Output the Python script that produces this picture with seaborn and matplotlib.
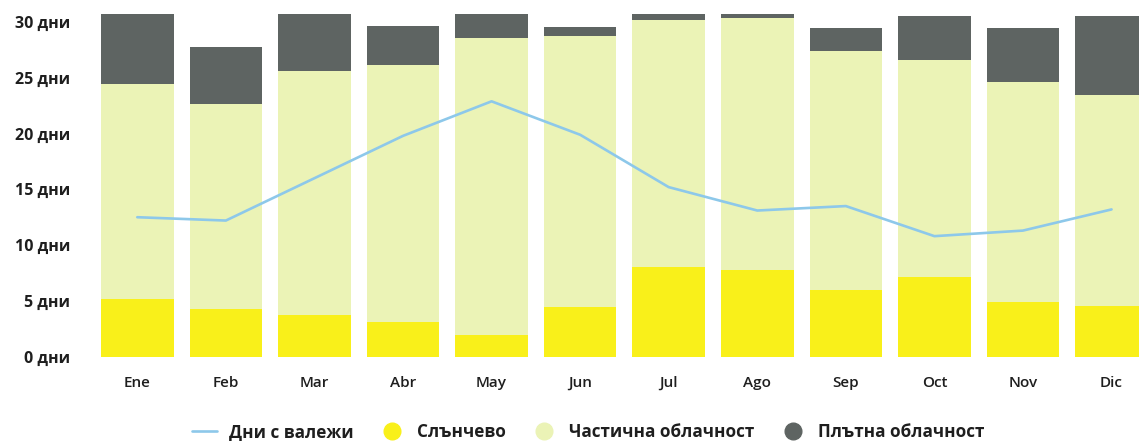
import numpy as np
import pandas as pd
import matplotlib
matplotlib.use("Agg")
import matplotlib.pyplot as plt
from matplotlib.lines import Line2D
import seaborn as sns

# Monthly sky conditions (days) and rainy days
months = ["Ene", "Feb", "Mar", "Abr", "May", "Jun", "Jul", "Ago", "Sep", "Oct", "Nov", "Dic"]
sunny = [5.2, 4.3, 3.7, 3.1, 1.9, 4.4, 8.0, 7.8, 6.0, 7.1, 4.9, 4.5]
partly_cloudy = [19.3, 18.4, 21.9, 23.1, 26.7, 24.4, 22.2, 22.6, 21.4, 19.5, 19.7, 19.0]
overcast = [6.2, 5.1, 5.1, 3.5, 2.1, 0.8, 0.5, 0.3, 2.1, 4.0, 4.9, 7.1]
rain_days = [12.5, 12.2, 16.0, 19.8, 22.9, 19.9, 15.2, 13.1, 13.5, 10.8, 11.3, 13.2]

y_ticks = [0, 5, 10, 15, 20, 25, 30]
y_tick_labels = [f"{v} дни" for v in y_ticks]

legend_labels = ["Дни с валежи", "Слънчево", "Частична облачност", "Плътна облачност"]

C_SUN = "#f9f01a"
C_PART = "#ebf3b6"
C_OVER = "#5e6462"
C_RAIN = "#8dc8ea"
C_TEXT = "#1e1e1e"

sns.set_theme(style="white")
plt.rcParams["font.family"] = ["Open Sans", "DejaVu Sans"]

df = pd.DataFrame({
    "month": months,
    "sunny": sunny,
    "partly": partly_cloudy,
    "overcast": overcast,
    "rain": rain_days,
})
df["lower2"] = df["sunny"] + df["partly"]
df["total"] = df["lower2"] + df["overcast"]

W, H = 1139, 441
fig = plt.figure(figsize=(W / 100, H / 100), dpi=100)
ax = fig.add_axes([93 / W, (H - 356.5) / H, (W - 93) / W, 351 / H])

bw = 0.82
# stacked bars drawn from the total downwards
sns.barplot(data=df, x="month", y="total", color=C_OVER, width=bw,
            saturation=1, ax=ax, linewidth=0)
sns.barplot(data=df, x="month", y="lower2", color=C_PART, width=bw,
            saturation=1, ax=ax, linewidth=0)
sns.barplot(data=df, x="month", y="sunny", color=C_SUN, width=bw,
            saturation=1, ax=ax, linewidth=0)

sns.lineplot(x=np.arange(len(months)), y=df["rain"], color=C_RAIN,
             linewidth=1.9, ax=ax)

ax.set_xlim(-0.5, 11.31)
ax.set_ylim(0, 31.5)
ax.set_yticks(y_ticks)
ax.set_yticklabels(y_tick_labels, fontsize=11.5, fontweight="bold", color=C_TEXT)
ax.set_xticks(range(len(months)))
ax.set_xticklabels(months, fontsize=11, fontweight="semibold", color=C_TEXT)
ax.tick_params(axis="y", length=0, pad=16.5)
ax.tick_params(axis="x", length=0, pad=14)
ax.set_xlabel("")
ax.set_ylabel("")
sns.despine(ax=ax, left=True, bottom=True)

handles = [
    Line2D([0], [0], color=C_RAIN, linewidth=1.9),
    Line2D([0], [0], marker="o", linestyle="none", markersize=12,
           markerfacecolor=C_SUN, markeredgecolor=C_SUN),
    Line2D([0], [0], marker="o", linestyle="none", markersize=12,
           markerfacecolor=C_PART, markeredgecolor=C_PART),
    Line2D([0], [0], marker="o", linestyle="none", markersize=12,
           markerfacecolor=C_OVER, markeredgecolor=C_OVER),
]
leg = fig.legend(handles, legend_labels, ncol=4, loc="center",
                 bbox_to_anchor=(0.516, 1 - 432 / H), frameon=False,
                 prop={"size": 12.3, "weight": "bold"}, handlelength=1.5,
                 handletextpad=0.7, columnspacing=1.5)
for t in leg.get_texts():
    t.set_color(C_TEXT)

fig.savefig("out.png", dpi=100, facecolor="white")
